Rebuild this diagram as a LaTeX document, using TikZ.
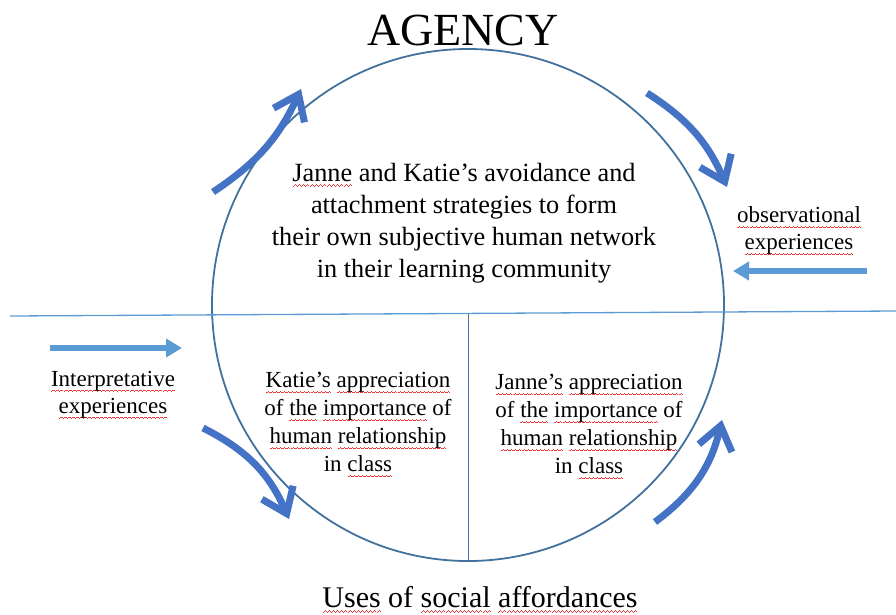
\documentclass[tikz,border=0pt]{standalone}
\usepackage{fontspec}
\setmainfont{Liberation Serif}
\usetikzlibrary{arrows.meta}

\definecolor{cycleblue}{HTML}{4472C4}
\definecolor{flowblue}{HTML}{5B9BD5}
\definecolor{ringblue}{HTML}{41719C}
\definecolor{squig}{HTML}{F03A3A}

% red wavy underline, as left by a spell checker
\newcommand\wavelet{\hbox{\rule[-5.4pt]{1pt}{0.9pt}\rule[-4.7pt]{1pt}{0.9pt}\rule[-4.0pt]{1pt}{0.9pt}\rule[-4.7pt]{1pt}{0.9pt}}}
\newcommand\sq[1]{\setbox0\hbox{#1}\rlap{\hbox to \wd0{\color{squig}\xleaders\wavelet\hfil}}\box0\relax}

\tikzset{
  cyclearrow/.style={draw=cycleblue, line width=7pt,
    -{Straight Barb[length=23pt,width=34pt]}},
  flowarrow/.style={draw=flowblue, line width=6pt,
    -{Triangle[length=16pt,width=18pt]}},
  ring/.style={draw=ringblue, line width=1.8pt},
  divider/.style={draw=flowblue, line width=1.3pt},
  splitline/.style={draw=ringblue, line width=0.8pt},
  bigtext/.style={inner sep=0pt, align=center, font=\fontsize{26.3}{32}\selectfont},
  boxtext/.style={inner sep=0pt, align=center, font=\fontsize{23}{28}\selectfont},
  sidetext/.style={inner sep=0pt, align=center, font=\fontsize{23}{27}\selectfont},
}

\begin{document}
\begin{tikzpicture}[x=1pt, y=-1pt]
  \useasboundingbox (0,0) rectangle (896,614);

  % central circle and its dividing lines
  \coordinate (hub) at (468,305);
  \draw[ring] (hub) circle[radius=256];
  \coordinate (divL) at (10,316);
  \coordinate (divR) at (896,311);
  \draw[divider] (divL) -- (divR);
  \coordinate (splitT) at (468,313.5);
  \coordinate (splitB) at (468,561);
  \draw[splitline] (splitT) -- (splitB);

  % titles
  \node[anchor=base, inner sep=0pt, font=\fontsize{46}{50}\selectfont] (agency) at (463,45) {AGENCY};
  \node[anchor=base, inner sep=0pt, font=\fontsize{30}{34}\selectfont] (uses) at (480,607)
    {\sq{Uses} of \sq{social} \sq{affordances}};

  % texts inside the circle
  \node[bigtext] (core) at (464,223)
    {\sq{Janne} and Katie’s avoidance and\\attachment strategies to form\\their own subjective human network\\in their learning community};
  \node[boxtext] (katie) at (358,425)
    {\sq{Katie’s} \sq{appreciation}\\of \sq{the} \sq{importance} of\\\sq{human} \sq{relationship}\\in \sq{class}};
  \node[boxtext] (janne) at (589,427)
    {\sq{Janne’s} \sq{appreciation}\\of \sq{the} \sq{importance} of\\\sq{human} \sq{relationship}\\in \sq{class}};

  % side labels
  \node[sidetext] (obs) at (799,231) {\sq{observational}\\\sq{experiences}};
  \node[sidetext] (interp) at (113,395) {\sq{Interpretative}\\\sq{experiences}};

  % straight arrows
  \coordinate (obsS) at (867,271);
  \coordinate (obsE) at (733,271);
  \draw[flowarrow] (obsS) -- (obsE);
  \coordinate (intS) at (50,348);
  \coordinate (intE) at (182,348);
  \draw[flowarrow] (intS) -- (intE);

  % curved cycle arrows
  \coordinate (c1s) at (213,192);
  \coordinate (c1e) at (301,89);
  \draw[cyclearrow] (c1s) to[bend right=16] (c1e);
  \coordinate (c2s) at (647,93);
  \coordinate (c2e) at (727,187);
  \draw[cyclearrow] (c2s) to[bend left=17] (c2e);
  \coordinate (c3s) at (203,428);
  \coordinate (c3e) at (289,519);
  \draw[cyclearrow] (c3s) to[bend left=20] (c3e);
  \coordinate (c4s) at (655,522);
  \coordinate (c4e) at (722,420);
  \draw[cyclearrow] (c4s) to[bend right=20] (c4e);
\end{tikzpicture}
\end{document}
